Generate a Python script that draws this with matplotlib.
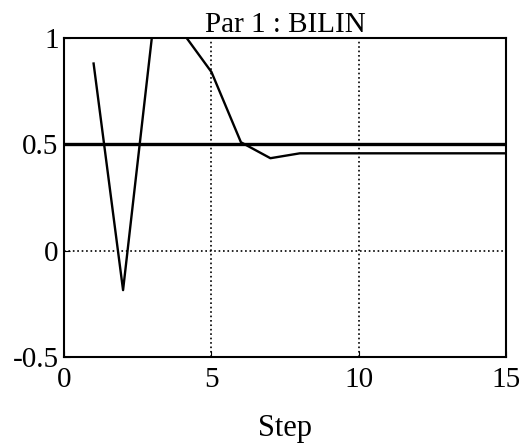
import numpy as np
import matplotlib
matplotlib.use('Agg')
import matplotlib.pyplot as plt

# data
steps = [1, 2, 3, 4, 5, 6, 7, 8, 9, 10, 11, 12, 13, 14, 15]
estimate = [0.88, -0.185, 1.03, 1.03, 0.84, 0.51, 0.435, 0.458, 0.458, 0.458,
            0.458, 0.458, 0.458, 0.458, 0.458]
true_value = 0.5
xticks = [0, 5, 10, 15]
yticks = [-0.5, 0, 0.5, 1]
ytick_labels = ['-0.5', '0', '0.5', '1']

plt.rcParams['font.family'] = ['Liberation Serif', 'DejaVu Serif']

fig = plt.figure(figsize=(5.3, 4.47), dpi=100)
ax = fig.add_axes([0.121, 0.201, 0.834, 0.714])

ax.plot(steps, estimate, color='black', linewidth=1.7)
ax.plot([0, 15], [true_value, true_value], color='black', linewidth=2.4)

ax.set_xlim(0, 15)
ax.set_ylim(-0.5, 1)
ax.set_xticks(xticks)
ax.set_yticks(yticks)
ax.set_yticklabels(ytick_labels)
ax.grid(True, linestyle=':', color='black', linewidth=1.2)
ax.tick_params(direction='in', length=4, labelsize=21)
ax.tick_params(axis='y', pad=4)
ax.tick_params(axis='x', pad=7)
for s in ax.spines.values():
    s.set_linewidth(1.5)

ax.set_title('Par 1 : BILIN', fontsize=21, pad=1)
ax.set_xlabel('Step', fontsize=22, labelpad=15)

fig.savefig('out.png', dpi=100)
